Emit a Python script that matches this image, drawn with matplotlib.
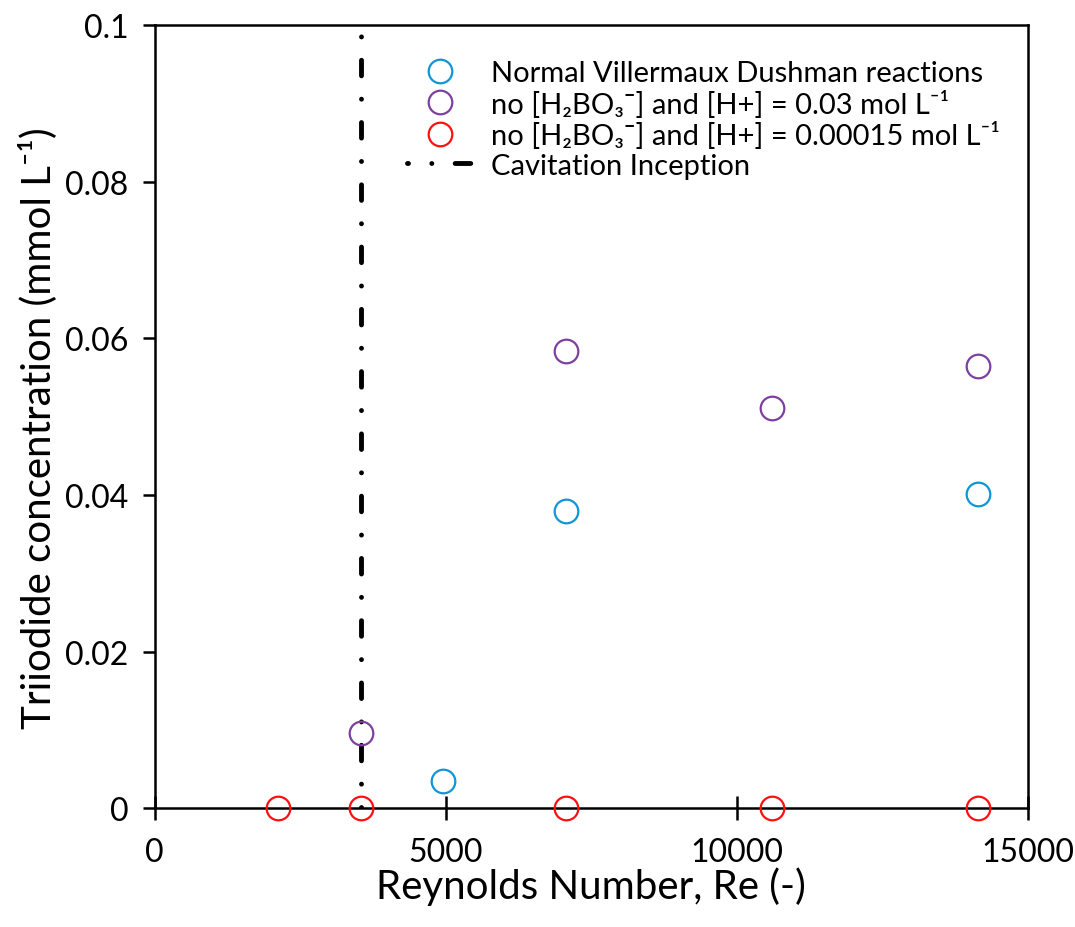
import matplotlib
matplotlib.use("Agg")
import matplotlib.pyplot as plt

plt.rcParams["font.family"] = ["Lato", "DejaVu Sans"]

# données
re_normal = [4950, 7071, 14142]
c_normal = [0.0035, 0.0379, 0.0401]

re_h03 = [3536, 7071, 10607, 14142]
c_h03 = [0.0096, 0.0584, 0.0511, 0.0565]

re_h00015 = [2121, 3536, 7071, 10607, 14142]
c_h00015 = [0.0, 0.0, 0.0, 0.0, 0.0]

re_cavitation = [3550, 3550]
c_cavitation = [0.0, 0.1]

labels = [
    "Normal Villermaux Dushman reactions",
    "no [H₂BO₃¯] and [H+] = 0.03 mol L⁻¹",
    "no [H₂BO₃¯] and [H+] = 0.00015 mol L⁻¹",
    "Cavitation Inception",
]

fig = plt.figure(figsize=(10.75, 9.28), dpi=100)
ax = fig.add_axes([0.144, 0.128, 0.812, 0.844])

style = dict(ls="none", marker="o", markersize=17, markerfacecolor="none",
             markeredgewidth=1.6, clip_on=False, zorder=3)
ax.plot(re_normal, c_normal, markeredgecolor="#0f96d6", label=labels[0], **style)
ax.plot(re_h03, c_h03, markeredgecolor="#7e40a0", label=labels[1], **style)
ax.plot(re_h00015, c_h00015, markeredgecolor="#ff1010", label=labels[2], **style)
ax.plot(re_cavitation, c_cavitation, color="black", lw=3.5,
        ls=(3.0, (3.2, 4.8, 0.01, 4.8)), dash_capstyle="round",
        label=labels[3], zorder=2)

ax.set_xlim(0, 15000)
ax.set_ylim(0, 0.1)
ax.set_xticks([0, 5000, 10000, 15000])
ax.set_yticks([0, 0.02, 0.04, 0.06, 0.08, 0.1])
ax.set_yticklabels(["0", "0.02", "0.04", "0.06", "0.08", "0.1"])
ax.tick_params(axis="x", direction="inout", length=17, width=1.8,
               labelsize=23, pad=12)
ax.tick_params(axis="y", direction="out", length=9, width=1.8,
               labelsize=23, pad=10)
for s in ax.spines.values():
    s.set_linewidth(1.8)

ax.set_xlabel("Reynolds Number, Re (-)", fontsize=29, labelpad=0)
ax.set_ylabel("Triiodide concentration (mmol L⁻¹)", fontsize=29)
ax.yaxis.set_label_coords(-0.112, 0.486)

ax.legend(loc="upper left", bbox_to_anchor=(0.275, 0.97), frameon=False,
          fontsize=21, handlelength=2.3, handletextpad=0.6,
          labelspacing=0.12, borderaxespad=0)

fig.savefig("out.png", dpi=100)
